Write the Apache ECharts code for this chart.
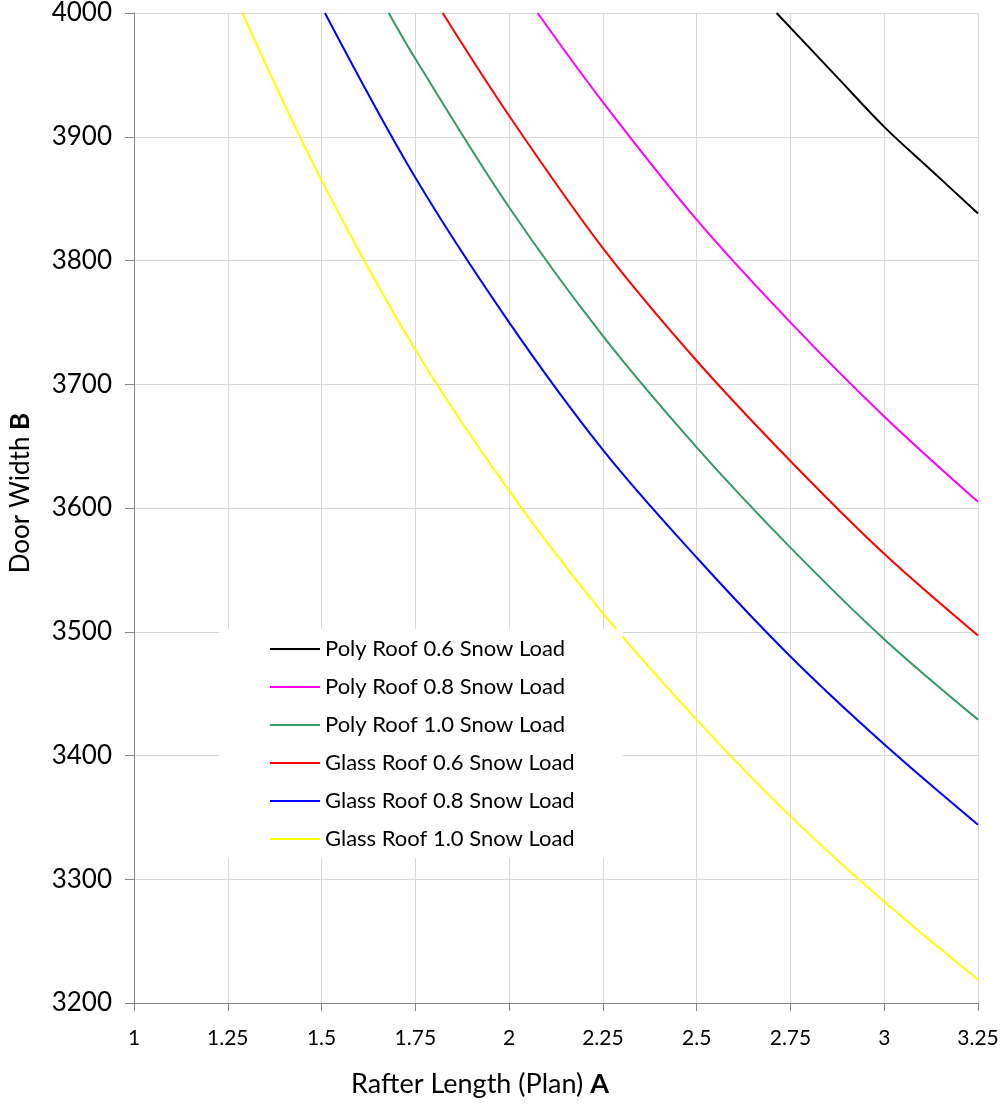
<!DOCTYPE html>
<html>
<head>
<meta charset="utf-8">
<script src="https://cdn.jsdelivr.net/npm/echarts@6/dist/echarts.min.js"></script>
<style>
  html, body { margin: 0; padding: 0; background: #ffffff; }
  #chart { width: 1006px; height: 1104px; }
</style>
</head>
<body>
<div id="chart"></div>
<script>
// ---- data (Rafter Length A, Door Width B) ----
const seriesNames = [
  'Poly Roof 0.6 Snow Load',
  'Poly Roof 0.8 Snow Load',
  'Poly Roof 1.0 Snow Load',
  'Glass Roof 0.6 Snow Load',
  'Glass Roof 0.8 Snow Load',
  'Glass Roof 1.0 Snow Load'
];
const polyRoof06 = [[2.713,4000],[2.875,3948],[3.0,3908],[3.125,3873],[3.25,3838]];
const polyRoof08 = [[2.076,4000],[2.25,3928],[2.5,3833],[2.75,3750],[3.0,3674],[3.25,3605]];
const polyRoof10 = [[1.679,4000],[1.75,3963],[2.0,3843],[2.25,3739],[2.5,3649],[2.75,3568],[3.0,3494],[3.25,3429]];
const glassRoof06 = [[1.823,4000],[2.0,3917],[2.25,3810],[2.5,3719],[2.75,3638],[3.0,3563],[3.25,3497]];
const glassRoof08 = [[1.509,4000],[1.75,3867],[2.0,3750],[2.25,3647],[2.5,3560],[2.75,3480],[3.0,3409],[3.25,3344]];
const glassRoof10 = [[1.289,4000],[1.5,3865],[1.75,3728],[2.0,3614],[2.25,3515],[2.5,3429],[2.75,3351],[3.0,3282],[3.25,3219]];
const seriesColors = ['#000000', '#FF00FF', '#339966', '#FF0000', '#0000FF', '#FFFF00'];
const allData = [polyRoof06, polyRoof08, polyRoof10, glassRoof06, glassRoof08, glassRoof10];

const FONT = 'Lato, "Open Sans", sans-serif';
const chart = echarts.init(document.getElementById('chart'), null, { renderer: 'canvas' });

const series = seriesNames.map((name, i) => ({
  name: name,
  type: 'line',
  data: allData[i],
  symbol: 'none',
  smooth: 0.35,
  clip: true,
  color: seriesColors[i],
  lineStyle: { color: seriesColors[i], width: 2 },
  itemStyle: { color: seriesColors[i] },
  z: 3
}));

chart.setOption({
  backgroundColor: '#ffffff',
  animation: false,
  grid: { left: 131, right: 28, top: 12, bottom: 101, containLabel: false },
  xAxis: {
    type: 'value',
    min: 1, max: 3.25, interval: 0.25,
    name: '{n|Rafter Length (Plan) }{b|A}',
    nameLocation: 'middle',
    nameGap: 68,
    nameTextStyle: {
      padding: [0, 152, 0, 0],
      rich: {
        n: { fontFamily: FONT, fontSize: 27, color: '#000' },
        b: { fontFamily: FONT, fontSize: 27, color: '#000', fontWeight: 'bold' }
      }
    },
    axisLine: { show: true, lineStyle: { color: '#868686', width: 1 } },
    axisTick: { show: true, inside: false, length: 8, lineStyle: { color: '#868686' } },
    axisLabel: { color: '#000', fontFamily: FONT, fontSize: 21, margin: 25, formatter: function (v) { return String(v); } },
    splitLine: { show: true, lineStyle: { color: '#d9d9d9', width: 1 } }
  },
  yAxis: {
    type: 'value',
    min: 3200, max: 4000, interval: 100,
    name: '{n|Door Width }{b|B}',
    nameLocation: 'middle',
    nameGap: 100,
    nameTextStyle: {
      padding: [0, 0, 0, 30],
      rich: {
        n: { fontFamily: FONT, fontSize: 26, color: '#000' },
        b: { fontFamily: FONT, fontSize: 26, color: '#000', fontWeight: 'bold' }
      }
    },
    axisLine: { show: true, lineStyle: { color: '#868686', width: 1 } },
    axisTick: { show: true, inside: false, length: 9, lineStyle: { color: '#868686' } },
    axisLabel: { color: '#000', fontFamily: FONT, fontSize: 26, margin: 22, formatter: function (v) { return String(v); } },
    splitLine: { show: true, lineStyle: { color: '#d9d9d9', width: 1 } }
  },
  legend: {
    show: true,
    orient: 'vertical',
    left: 219,
    top: 629,
    backgroundColor: '#ffffff',
    padding: [9, 48, 8, 51],
    itemWidth: 50,
    itemHeight: 2,
    itemGap: 16,
    icon: 'rect',
    selectedMode: false,
    z: 10,
    textStyle: { color: '#000', fontFamily: FONT, fontSize: 22, lineHeight: 22 },
    data: seriesNames
  },
  series: series
});
</script>
</body>
</html>
